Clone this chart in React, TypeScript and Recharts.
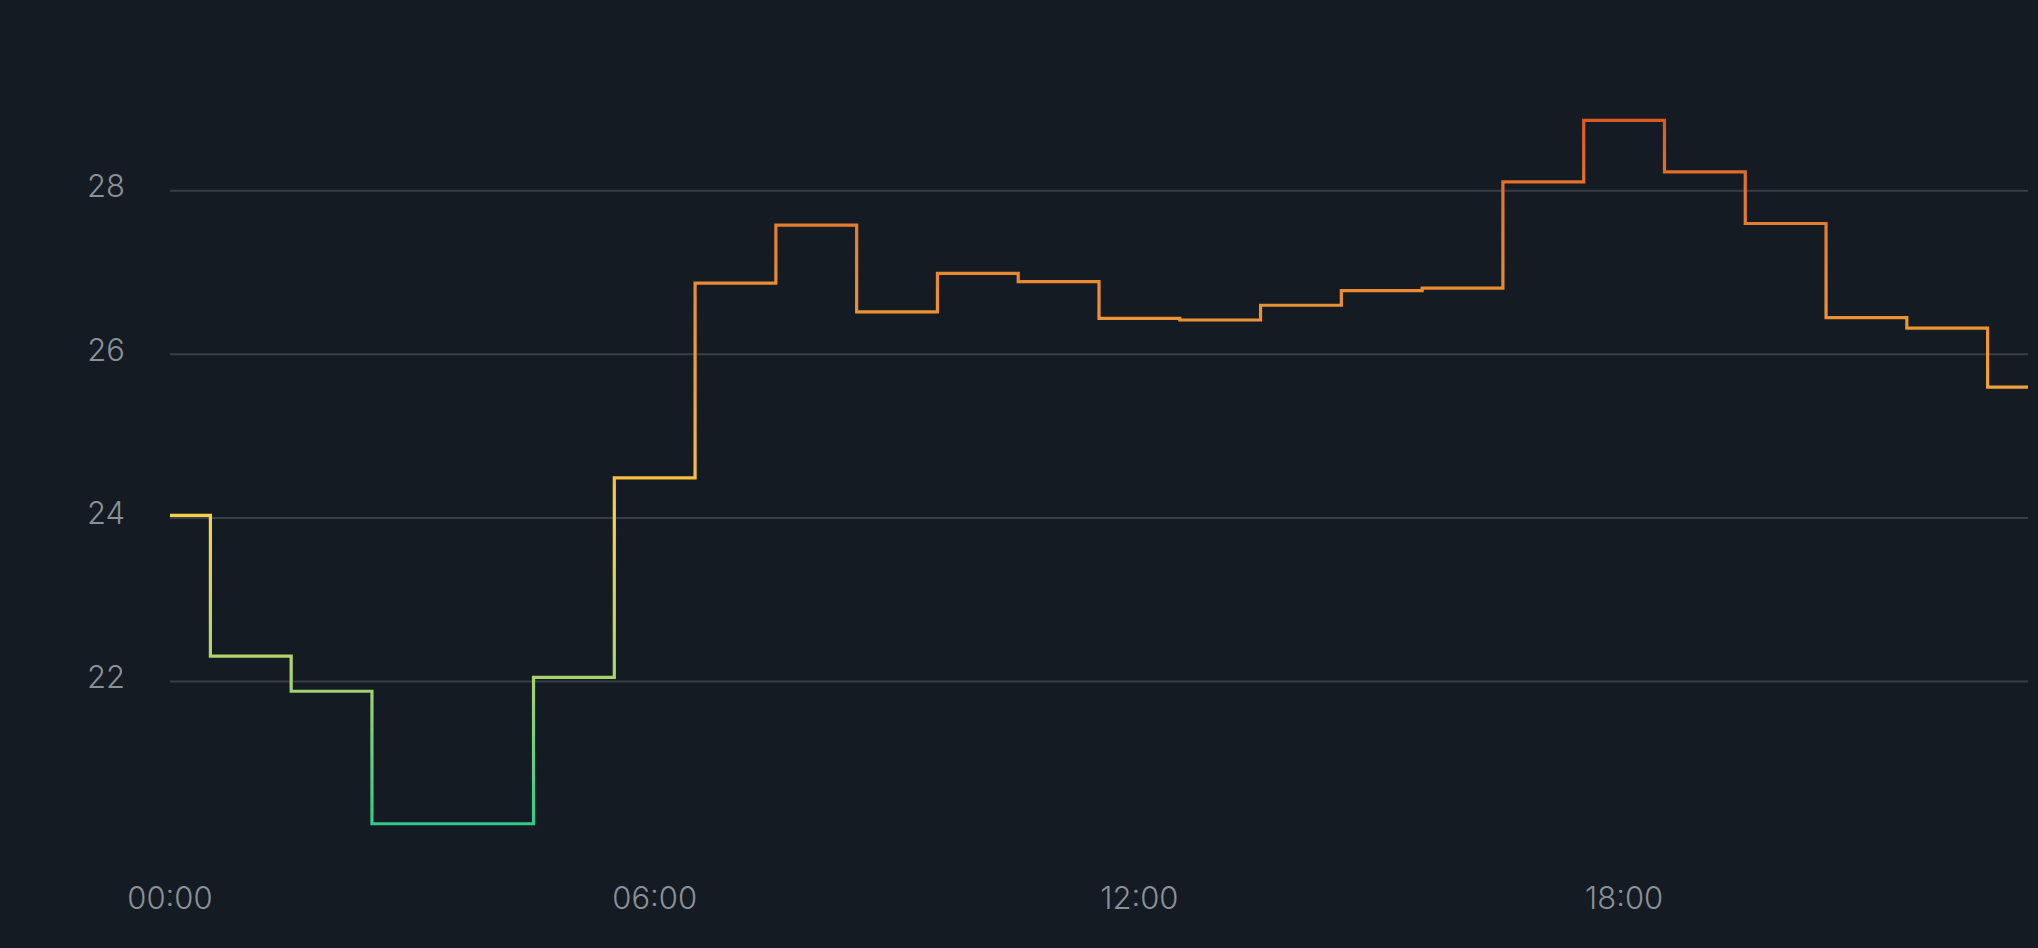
import React from "react";
import { LineChart, Line, XAxis, YAxis, CartesianGrid } from "recharts";

const hours = [
    "00:00", "01:00", "02:00", "03:00", "04:00", "05:00", "06:00", "07:00",
    "08:00", "09:00", "10:00", "11:00", "12:00", "13:00", "14:00", "15:00",
    "16:00", "17:00", "18:00", "19:00", "20:00", "21:00", "22:00", "23:00",
];

const temps = [
    24.03, 22.31, 21.88, 20.26, 20.26, 22.05, 24.49, 26.87,
    27.58, 26.52, 26.99, 26.89, 26.44, 26.42, 26.6, 26.78,
    26.81, 28.11, 28.86, 28.23, 27.6, 26.45, 26.32, 25.6,
];

const yTicks = [22, 24, 26, 28];

const data = hours.map((time, i) => ({ time, temp: temps[i] }));

const BG = "#141b22";
const LABEL = "#8a9098";
const FONT = "Inter, 'Noto Sans', sans-serif";

function YTick({ x, y, payload }: any) {
    return (
        <text x={x} y={y} dy={6.5} textAnchor="end" fill={LABEL} fontSize={31} fontFamily={FONT} fontWeight={300}>
            {payload.value}
        </text>
    );
}

function XTick({ x, y, payload }: any) {
    return (
        <text x={x} y={y} dy={64} textAnchor="middle" fill={LABEL} fontSize={31} fontFamily={FONT} fontWeight={300}>
            {payload.value}
        </text>
    );
}

export default function App() {
    return (
        <div style={{ position: "absolute", left: 0, top: 0, width: 2038, height: 948, background: BG }}>
            <LineChart width={2038} height={948} data={data} margin={{ top: 109, right: 10, bottom: 0, left: 0 }}>
                <defs>
                    <linearGradient id="tempGrad" x1="0" y1="0" x2="0" y2="1">
                        <stop offset="0" stopColor="#dd5a26" />
                        <stop offset="0.1" stopColor="#e4742c" />
                        <stop offset="0.27" stopColor="#ec9134" />
                        <stop offset="0.38" stopColor="#f0a23a" />
                        <stop offset="0.51" stopColor="#f6c043" />
                        <stop offset="0.565" stopColor="#f7d24b" />
                        <stop offset="0.76" stopColor="#b4d46a" />
                        <stop offset="0.81" stopColor="#a0d272" />
                        <stop offset="1" stopColor="#34c98a" />
                    </linearGradient>
                </defs>
                <CartesianGrid vertical={false} horizontalValues={yTicks} stroke="#383f47" strokeWidth={2} />
                <XAxis
                    dataKey="time"
                    interval={5}
                    axisLine={false}
                    tickLine={false}
                    tickSize={0}
                    tickMargin={0}
                    height={103}
                    tick={<XTick />}
                />
                <YAxis
                    type="number"
                    domain={[20, 29]}
                    ticks={yTicks}
                    axisLine={false}
                    tickLine={false}
                    tickSize={0}
                    tickMargin={45}
                    width={170}
                    tick={<YTick />}
                />
                <Line
                    type="step"
                    dataKey="temp"
                    stroke="url(#tempGrad)"
                    strokeWidth={3.2}
                    dot={false}
                    activeDot={false}
                    isAnimationActive={false}
                />
            </LineChart>
        </div>
    );
}
